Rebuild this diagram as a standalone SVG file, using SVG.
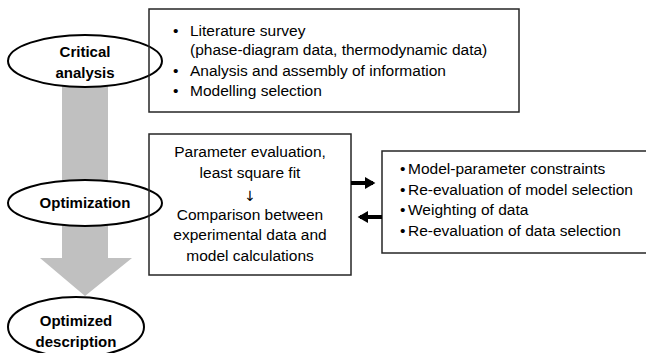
<svg xmlns="http://www.w3.org/2000/svg" width="646" height="353" viewBox="0 0 646 353">
<style>
.ell{fill:#fff;stroke:#000;stroke-width:2}
.box{fill:none;stroke:#262626;stroke-width:1.5}
.lbl{font-family:"Liberation Sans",Arial,sans-serif;font-size:15px;font-weight:bold;fill:#000;text-anchor:middle}
.txt{font-family:"Liberation Sans",Arial,sans-serif;font-size:15.5px;fill:#000}
.ctr{text-anchor:middle}
.sym{font-family:"DejaVu Sans",sans-serif;font-size:14px;fill:#000;text-anchor:middle}
.flow{fill:#c0c0c0;stroke:none}
.conn{stroke:#000;stroke-width:4;fill:none}
</style>
<defs>
<marker id="ah" markerWidth="4" markerHeight="4" refX="2" refY="2" orient="auto" markerUnits="strokeWidth">
<path d="M0,0.5 L2.6,2 L0,3.5 Z" fill="#000"/>
</marker>
</defs>
<g id="flow-arrow">
<path class="flow" d="M62,80 L108,80 L108,258 L132,258 L85,296 L40,258 L62,258 Z"/>
</g>
<g id="critical-analysis">
<ellipse class="ell" cx="85" cy="61" rx="77" ry="26"/>
<text class="lbl" x="85" y="57">Critical</text>
<text class="lbl" x="85" y="78">analysis</text>
</g>
<g id="optimization">
<ellipse class="ell" cx="85" cy="203" rx="77" ry="23"/>
<text class="lbl" x="85" y="208">Optimization</text>
</g>
<g id="optimized-description">
<ellipse class="ell" cx="76" cy="327" rx="68" ry="30"/>
<text class="lbl" x="76" y="326">Optimized</text>
<text class="lbl" x="76" y="347">description</text>
</g>
<g id="survey-box">
<rect class="box" x="149" y="9" width="370" height="103"/>
<text class="txt" x="173" y="36">•</text>
<text class="txt" x="190" y="36">Literature survey</text>
<text class="txt" x="190" y="55">(phase-diagram data, thermodynamic data)</text>
<text class="txt" x="173" y="76">•</text>
<text class="txt" x="190" y="76">Analysis and assembly of information</text>
<text class="txt" x="173" y="96">•</text>
<text class="txt" x="190" y="96">Modelling selection</text>
</g>
<g id="evaluation-box">
<rect class="box" x="149" y="134" width="202" height="141"/>
<text class="txt ctr" x="250" y="157">Parameter evaluation,</text>
<text class="txt ctr" x="250" y="178">least square fit</text>
<text class="sym" x="250" y="201">↓</text>
<text class="txt ctr" x="250" y="220">Comparison between</text>
<text class="txt ctr" x="250" y="240">experimental data and</text>
<text class="txt ctr" x="250" y="261">model calculations</text>
</g>
<g id="constraints-box">
<rect class="box" x="382" y="151" width="270" height="102"/>
<text class="txt" x="400" y="174">•</text>
<text class="txt" x="408" y="174">Model-parameter constraints</text>
<text class="txt" x="400" y="195">•</text>
<text class="txt" x="408" y="195">Re-evaluation of model selection</text>
<text class="txt" x="400" y="215">•</text>
<text class="txt" x="408" y="215">Weighting of data</text>
<text class="txt" x="400" y="236">•</text>
<text class="txt" x="408" y="236">Re-evaluation of data selection</text>
</g>
<g id="connectors">
<line class="conn" x1="351" y1="183" x2="373" y2="183" marker-end="url(#ah)"/>
<line class="conn" x1="382" y1="217" x2="360" y2="217" marker-end="url(#ah)"/>
</g>
</svg>
